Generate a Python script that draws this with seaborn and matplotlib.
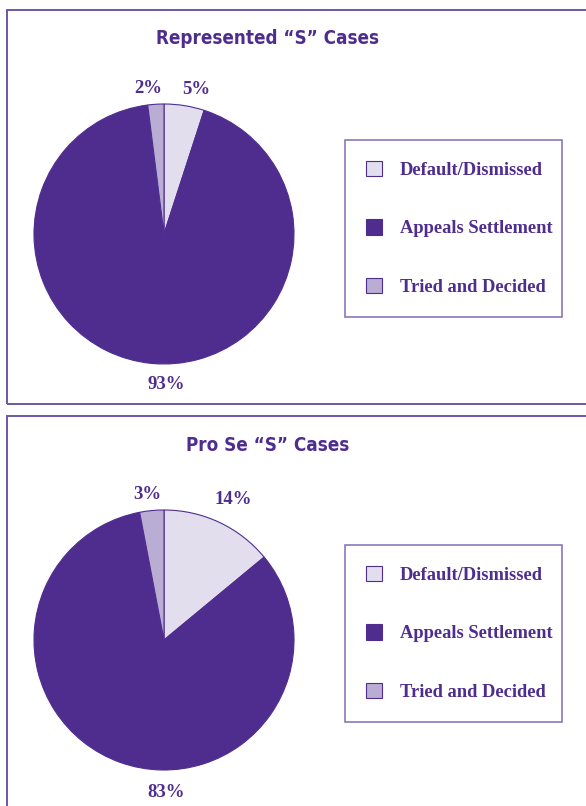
import matplotlib
matplotlib.use("Agg")
import matplotlib.pyplot as plt
import seaborn as sns
from matplotlib.patches import Rectangle

# data
categories = ["Default/Dismissed", "Appeals Settlement", "Tried and Decided"]
represented = [5, 93, 2]
pro_se = [14, 83, 3]
titles = ["Represented \u201cS\u201d Cases", "Pro Se \u201cS\u201d Cases"]

sns.set_theme(style="white")
plt.rcParams["font.family"] = ["Liberation Serif", "DejaVu Serif"]

PURPLE = "#4f2d8f"
colors = sns.color_palette(["#e3deee", PURPLE, "#b9add4"])
BORDER = "#6d56aa"

W, H = 586, 806
fig = plt.figure(figsize=(W / 100, H / 100), dpi=100)


def px(x, y, w, h):
    # pixel box (top-left origin) -> figure fraction
    return [x / W, 1 - (y + h) / H, w / W, h / H]


def panel(values, title, top, legend_top, label_pos):
    # panel frame, runs off the right edge of the page
    fig.patches.append(Rectangle((7 / W, 1 - (top + 394) / H), 700 / W, 394 / H,
                                 transform=fig.transFigure, fill=False,
                                 edgecolor=BORDER, linewidth=1.4))
    fig.text(268 / W, 1 - (top + 29) / H, title, ha="center", va="center",
             fontsize=13.5, fontweight="bold", color=PURPLE,
             family="DejaVu Sans", fontstretch="condensed")

    R = 130
    cy = top + 224
    ax = fig.add_axes(px(164 - R, cy - R, 2 * R, 2 * R))
    wedges, texts = ax.pie(values, colors=colors, startangle=90, counterclock=False,
                           labels=[f"{v}%" for v in values], labeldistance=1.15,
                           wedgeprops=dict(edgecolor=PURPLE, linewidth=0.8),
                           textprops=dict(color=PURPLE, fontsize=13.5, fontweight="bold"))
    for t, pos in zip(texts, label_pos):
        t.set_position(pos)
        t.set_ha("center")
        t.set_va("center")
    ax.set_xlim(-1, 1)
    ax.set_ylim(-1, 1)
    ax.axis("off")

    leg = ax.legend(wedges, categories, loc="upper left",
                    bbox_to_anchor=px(345, legend_top, 217, 178), mode="expand",
                    bbox_transform=fig.transFigure, frameon=True, fancybox=False,
                    prop=dict(family="Liberation Serif", weight="bold", size=13.3),
                    labelcolor=PURPLE, handlelength=0.9, handleheight=0.9,
                    handletextpad=0.95, labelspacing=2.2, borderpad=1.12,
                    borderaxespad=0)
    leg.get_frame().set_edgecolor(BORDER)
    leg.get_frame().set_linewidth(1.2)
    for p in leg.get_patches():
        p.set_linewidth(0.8)


panel(represented, titles[0], 10, 140, [(0.25, 1.11), (0.02, -1.16), (-0.12, 1.12)])
panel(pro_se, titles[1], 416, 545, [(0.53, 1.08), (0.02, -1.17), (-0.13, 1.12)])

fig.savefig("out.png", dpi=100)
